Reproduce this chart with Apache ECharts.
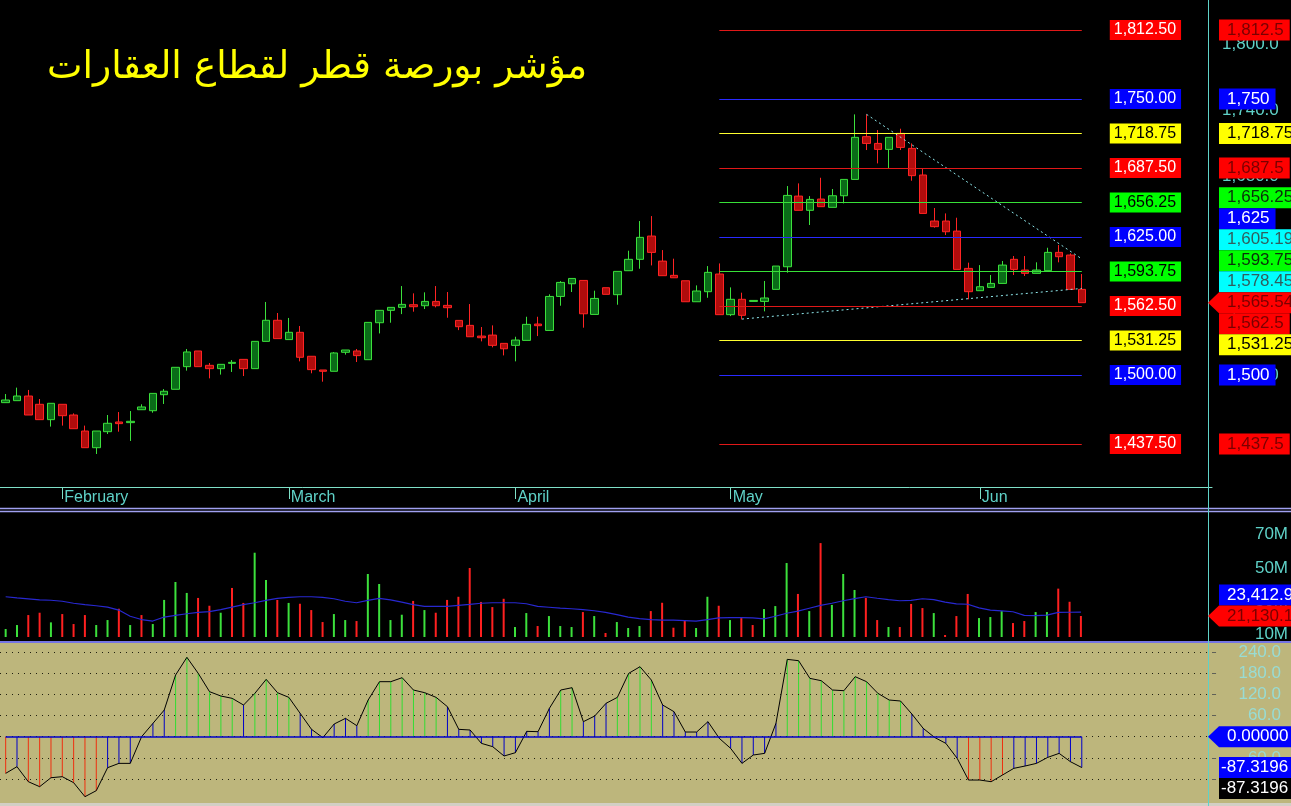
<!DOCTYPE html>
<html><head><meta charset="utf-8">
<script src="https://cdn.jsdelivr.net/npm/echarts@6/dist/echarts.min.js"></script>
<style>html,body{margin:0;padding:0;background:#000;}#c{width:1291px;height:806px;}</style>
</head><body><div id="c"></div>
<script>
// ---------------- DATA ----------------
const titleText = 'مؤشر بورصة قطر لقطاع العقارات';
const monthIdx = [5, 25, 45, 64, 86];
const monthNames = ['February', 'March', 'April', 'May', 'Jun'];

const open = [1475.0,1476.8,1481.0,1473.5,1459.6,1473.5,1463.8,1449.3,1434.2,1448.7,
1457.5,1456.9,1468.6,1467.7,1482.2,1487.1,1507.6,1521.8,1508.8,1505.8,
1510.6,1514.2,1505.8,1530.5,1549.6,1532.1,1538.7,1517.0,1504.6,1503.4,
1520.6,1521.8,1513.9,1547.4,1558.6,1561.3,1563.7,1562.8,1566.7,1563.1,
1549.5,1545.0,1535.3,1536.2,1528.7,1526.9,1531.4,1546.2,1540.4,1571.2,
1582.7,1585.7,1554.9,1579.1,1572.8,1594.5,1604.8,1625.9,1603.2,1590.3,
1585.4,1566.4,1575.5,1591.5,1554.7,1568.6,1566.7,1566.7,1577.6,1598.1,
1662.1,1649.2,1659.4,1651.9,1662.4,1677.2,1715.9,1709.8,1704.4,1718.9,
1705.3,1681.2,1639.5,1639.5,1630.4,1596.6,1576.4,1579.4,1583.0,1604.8,
1595.1,1592.1,1594.5,1611.1,1608.7,1577.6];
const close = [1477.4,1481.0,1463.8,1459.6,1474.4,1463.2,1451.4,1434.2,1449.3,1456.3,
1456.0,1458.1,1471.1,1483.4,1485.3,1507.0,1520.9,1507.6,1505.8,1509.7,
1511.5,1505.8,1530.5,1549.6,1533.0,1538.7,1516.1,1504.9,1503.4,1520.0,
1522.7,1517.6,1547.7,1558.6,1561.3,1564.0,1561.9,1566.7,1562.8,1561.0,
1543.8,1534.7,1533.8,1526.9,1523.8,1531.7,1545.9,1544.7,1571.2,1583.9,
1587.5,1555.5,1569.4,1573.1,1593.9,1604.8,1624.7,1611.1,1590.0,1588.1,
1566.4,1576.1,1593.0,1554.7,1568.6,1554.1,1567.6,1569.8,1598.7,1662.7,
1649.2,1659.1,1652.5,1662.4,1677.2,1715.3,1709.8,1704.4,1715.3,1706.2,
1680.6,1646.4,1634.4,1629.8,1595.7,1575.5,1580.0,1583.0,1599.6,1595.7,
1592.1,1595.1,1611.1,1607.2,1577.6,1565.54];
const low = [1475.0,1476.8,1463.8,1459.6,1453.3,1454.2,1451.4,1434.2,1428.5,1446.6,
1448.7,1440.3,1468.6,1465.9,1473.8,1487.1,1504.0,1507.6,1497.0,1500.4,
1502.8,1499.1,1505.8,1530.5,1533.0,1532.1,1512.4,1501.6,1494.0,1503.4,
1518.5,1511.8,1513.9,1537.7,1547.4,1555.2,1557.4,1559.8,1561.3,1551.9,
1540.7,1534.7,1530.5,1525.1,1517.8,1512.4,1531.4,1535.3,1540.4,1562.8,
1575.2,1542.9,1554.9,1573.1,1563.7,1594.5,1596.3,1599.3,1590.0,1588.1,
1566.4,1566.4,1570.0,1554.7,1553.4,1550.4,1566.7,1557.7,1577.6,1592.7,
1649.2,1635.9,1652.5,1651.9,1655.5,1677.2,1703.8,1691.7,1687.2,1703.8,
1676.0,1646.4,1633.5,1626.8,1595.7,1568.6,1576.4,1579.4,1583.0,1590.6,
1589.7,1592.1,1594.5,1602.1,1577.6,1565.5];
const high = [1482.8,1488.6,1486.5,1478.3,1474.4,1473.5,1465.3,1454.2,1449.3,1463.8,
1466.5,1467.4,1473.5,1483.4,1487.3,1507.0,1523.6,1521.8,1510.9,1509.7,
1513.6,1514.2,1530.5,1566.2,1556.2,1551.7,1544.4,1517.0,1504.6,1520.8,
1522.7,1523.6,1547.7,1558.6,1561.3,1580.6,1574.0,1574.9,1580.6,1575.2,
1549.5,1564.3,1543.5,1545.0,1528.7,1534.7,1552.8,1552.8,1573.1,1585.1,
1587.5,1585.7,1576.4,1579.1,1593.9,1612.6,1639.5,1644.0,1613.2,1605.4,
1585.4,1581.2,1598.7,1601.1,1579.4,1574.6,1567.6,1585.2,1598.7,1671.2,
1673.6,1662.1,1678.7,1668.5,1677.2,1736.1,1736.1,1721.9,1715.3,1723.1,
1709.8,1687.2,1651.3,1646.4,1642.5,1601.8,1599.6,1590.6,1603.3,1607.8,
1607.8,1602.1,1615.3,1617.8,1610.2,1591.5];

// horizontal levels (start / end candle index)
const levels = [1812.5, 1750, 1718.75, 1687.5, 1656.25, 1625, 1593.75, 1562.5, 1531.25, 1500, 1437.5];
const levelKinds = ['r','b','y','r','g','b','g','r','y','b','r'];
const levelStart = 63, levelEnd = 95;
// dotted trend lines [startIdx, startVal, endIdx, endVal]
const trendUpper = [76, 1736.1, 95, 1605.19];
const trendLower = [65, 1550.7, 95, 1578.45];
// price axis ticks
const priceTicks = [1440, 1500, 1560, 1620, 1680, 1740, 1800];

// volume (millions)
const volume = [13.3,15.7,21.7,23.1,17.3,22.3,16.3,21.7,15.7,18.7,
25.5,15.7,21.7,16.3,30.8,41.6,35.0,32.0,27.3,23.1,
38.0,29.0,59.2,42.8,30.8,29.0,28.5,24.7,17.5,22.3,
18.7,18.1,46.4,40.4,18.7,21.9,30.2,24.7,23.1,30.8,
32.7,50.0,29.6,26.5,31.5,14.5,22.9,15.1,21.1,15.1,
14.5,23.5,21.1,10.9,17.5,13.9,15.1,24.1,29.1,14.1,
18.7,13.9,32.7,27.3,18.7,19.9,15.7,25.3,27.1,53.0,
34.4,24.1,65.0,27.8,46.4,36.8,32.0,18.7,14.5,14.5,
28.4,25.9,22.9,9.7,21.1,34.4,19.9,20.5,24.1,16.9,
18.1,23.5,23.5,37.6,29.7,21.1301];
const volDir = 'ggrrgrrrggrgrggggrrgrrggrgrrrggrggggrgrrrrrrrggrgggrgrgggrrrrggrgrrgggrgrgggrrgrrrgrrrgggrrggrrr';
const volMA = [32.7,32.0,31.4,30.8,30.6,30.0,28.8,28.0,27.3,26.5,
24.7,21.0,19.0,18.1,20.5,21.5,22.5,23.3,23.8,25.0,
26.5,28.0,29.1,30.5,31.7,32.3,32.7,32.7,32.3,31.5,
30.0,29.1,30.5,31.7,30.8,29.5,28.0,26.9,26.9,26.9,
27.5,28.1,28.8,29.1,29.1,29.1,28.5,26.9,26.4,25.9,
25.5,25.0,24.3,23.3,22.0,20.5,19.5,19.0,18.7,18.7,
18.4,18.1,19.0,20.0,20.1,20.1,20.0,19.4,21.0,22.8,
24.1,25.8,27.5,28.8,30.3,31.6,32.7,31.8,31.0,30.3,
30.5,31.5,31.0,29.5,28.4,28.2,26.0,24.7,24.2,23.7,
21.5,21.3,21.7,23.3,23.4,23.4129];
const volTicks = [10, 30, 50, 70];

// oscillator
const osc = [-103.8,-84.9,-127.4,-141.5,-116.1,-113.2,-130.2,-169.8,-152.8,-87.7,
-75.5,-75.5,0,37.7,75.5,174.5,224.6,179.3,127.4,115.1,
108.5,89.6,122.7,162.3,124.5,111.3,66.0,20.8,-2.8,35.9,
51.9,31.1,103.8,155.7,155.7,167.0,132.1,124.5,111.3,84.9,
20.8,18.9,-18.9,-28.3,-54.7,-45.3,15.1,14.2,80.2,132.1,
138.7,42.5,58.5,94.4,111.3,179.3,198.1,160.4,89.6,70.8,
13.2,13.2,42.5,-4.7,-33.0,-75.5,-51.9,-47.2,37.7,218.9,
215.1,165.1,158.5,132.1,130.2,169.8,155.7,122.7,103.8,101.0,
64.2,23.6,-2.0,-18.9,-61.3,-122.7,-122.7,-127.4,-108.5,-89.6,
-83.0,-75.5,-58.5,-47.2,-70.8,-87.3196];
const oscSignal = -87.3196;
const oscGrid = [240, 180, 120, 60, 0, -60, -120];
const oscTicks = [240, 180, 120, 60, -60, -120];

// ---------------- CHART ----------------
const FONT = 'Liberation Sans, Arial, sans-serif';
const NCAT = 107, CW = 11.35, GL = -2.4, GW = NCAT * CW, AX = GL + GW;
const cats = Array.from({length: NCAT}, (_, i) => String(i));
const candleData = open.map((o, i) => [o, close[i], low[i], high[i]]);
const GREEN = '#3ce03c', RED = '#ff2020';
const CYAN = '#5fd2c8';
const kindStyle = {
  r: {line: '#e01818', bg: '#ff0000', fg: '#ffffff', fg2: '#7a0000'},
  b: {line: '#2a2aff', bg: '#0000ff', fg: '#ffffff', fg2: '#ffffff'},
  y: {line: '#ffff30', bg: '#ffff00', fg: '#000000', fg2: '#000000'},
  g: {line: '#38e038', bg: '#00ff00', fg: '#000000', fg2: '#0a300a'},
  c: {line: '#80e0e0', bg: '#00ffff', fg: '#305e5e', fg2: '#305e5e'}
};
const fmt = (v, min, max) => v.toLocaleString('en-US', {minimumFractionDigits: min, maximumFractionDigits: max});

const levelMarks = levels.map((v, i) => {
  const k = kindStyle[levelKinds[i]];
  return [{coord: [levelStart, v], lineStyle: {color: k.line, width: 1, type: 'solid'},
           label: {show: true, position: 'end', distance: 28, formatter: fmt(v, 2, 2),
                   backgroundColor: k.bg, color: k.fg, fontFamily: FONT, fontSize: 16,
                   padding: [2, 5, 1, 4], lineHeight: 17}},
          {coord: [levelEnd, v]}];
});

const monthFmt = (val, idx) => { const j = monthIdx.indexOf(Number(val)); return j >= 0 ? monthNames[j] : ''; };
const monthInterval = (idx) => monthIdx.indexOf(idx) >= 0;

const chart = echarts.init(document.getElementById('c'));
const option = {
  animation: false,
  backgroundColor: '#000000',
  title: {text: titleText, left: 42, top: 44,
          textStyle: {color: '#ffff00', fontSize: 37.7, fontWeight: 'normal', fontFamily: 'DejaVu Sans'}},
  grid: [
    {left: GL, top: 0, width: GW, height: 487},
    {left: GL, top: 512, width: GW, height: 125},
    {left: GL, top: 643, width: GW, height: 160}
  ],
  xAxis: [
    {type: 'category', gridIndex: 0, data: cats, boundaryGap: true,
     axisLine: {lineStyle: {color: '#7fe0c8', width: 1}},
     axisTick: {show: true, interval: monthInterval, alignWithLabel: true, length: 12, lineStyle: {color: '#7fe0c8'}},
     axisLabel: {interval: monthInterval, formatter: monthFmt, align: 'left', margin: 3, padding: [0, 0, 0, 2],
                 color: CYAN, fontFamily: FONT, fontSize: 16},
     splitLine: {show: false}},
    {type: 'category', gridIndex: 1, data: cats, boundaryGap: true, show: false},
    {type: 'category', gridIndex: 2, data: cats, boundaryGap: true, show: false}
  ],
  yAxis: [
    {type: 'value', gridIndex: 0, position: 'right', min: 1398.6, max: 1839.7,
     axisLine: {show: false}, axisTick: {show: false}, splitLine: {show: false},
     axisLabel: {customValues: priceTicks, formatter: v => fmt(v, 1, 1), color: CYAN,
                 fontFamily: FONT, fontSize: 17, margin: 10, align: 'left'}},
    {type: 'value', gridIndex: 1, position: 'right', min: 8.5, max: 83.7,
     axisLine: {show: false}, axisTick: {show: false}, splitLine: {show: false},
     axisLabel: {customValues: volTicks, formatter: v => v + 'M', color: CYAN,
                 fontFamily: FONT, fontSize: 17, margin: 1289 - AX, align: 'right'}},
    {type: 'value', gridIndex: 2, position: 'right', min: -187.7, max: 265.2,
     axisLine: {show: false}, splitLine: {show: false},
     axisTick: {show: true, customValues: oscTicks, length: 4, lineStyle: {color: '#606058'}},
     axisLabel: {customValues: oscTicks, formatter: v => v.toFixed(1), color: '#98dcd4',
                 fontFamily: FONT, fontSize: 17, margin: 1281 - AX, align: 'right'}}
  ],
  series: [
    {type: 'candlestick', xAxisIndex: 0, yAxisIndex: 0, data: candleData, barWidth: 8,
     itemStyle: {color: '#0a6c18', color0: '#b00c0c', borderColor: '#3ce03c', borderColor0: '#ff2424', borderWidth: 1},
     markLine: {silent: true, symbol: ['none', 'none'], animation: false, data: levelMarks}},
    {type: 'line', xAxisIndex: 0, yAxisIndex: 0, symbol: 'none', silent: true,
     data: [[trendUpper[0], trendUpper[1]], [trendUpper[2], trendUpper[3]]],
     lineStyle: {color: '#8fe8ec', width: 1, type: [2, 3]}},
    {type: 'line', xAxisIndex: 0, yAxisIndex: 0, symbol: 'none', silent: true,
     data: [[trendLower[0], trendLower[1]], [trendLower[2], trendLower[3]]],
     lineStyle: {color: '#8fe8ec', width: 1, type: [2, 3]}},
    {type: 'bar', xAxisIndex: 1, yAxisIndex: 1, barWidth: 2, silent: true,
     data: volume.map((v, i) => ({value: v, itemStyle: {color: volDir[i] === 'g' ? GREEN : RED}}))},
    {type: 'line', xAxisIndex: 1, yAxisIndex: 1, data: volMA, symbol: 'none', silent: true,
     lineStyle: {color: '#2828d0', width: 1.2}},
    {type: 'bar', xAxisIndex: 2, yAxisIndex: 2, barWidth: 1, silent: true, data: osc,
     itemStyle: {color: p => p.value > 100 ? '#33dd33' : (p.value < -100 ? '#ee3010' : '#0000c8')}},
    {type: 'line', xAxisIndex: 2, yAxisIndex: 2, data: osc, symbol: 'none', silent: true, z: 3,
     lineStyle: {color: '#000000', width: 1},
     markLine: {silent: true, symbol: ['none', 'none'], label: {show: false}, animation: false,
       data: oscGrid.map(v => ({yAxis: v, lineStyle: {color: '#202010', width: 1, type: [1, 5]}}))
         .concat([[{coord: [0, 0], lineStyle: {color: '#0000c8', width: 1.5, type: 'solid'}}, {coord: [95, 0]}]])}}
  ]
};
chart.setOption(option);

// ---------- right-hand value tags (stacked so they do not overlap) ----------
const BH = 21;
function stack(axisIdx, items, anchor) {
  const ys = items.map(it => chart.convertToPixel({yAxisIndex: axisIdx}, it.v));
  const out = ys.slice();
  for (let i = anchor - 1; i >= 0; i--) out[i] = Math.min(ys[i], out[i + 1] - BH);
  for (let i = anchor + 1; i < items.length; i++) out[i] = Math.max(ys[i], out[i - 1] + BH);
  return out;
}
function tags(items, ys) {
  const els = [];
  items.forEach((it, i) => {
    const y = ys[i];
    if (it.arrow) {
      els.push({type: 'polygon', z: 100, shape: {points: [[1208, y], [1219, y - BH / 2], [1219, y + BH / 2]]},
                style: {fill: it.bg}});
    }
    els.push({type: 'text', z: 101, x: 1219, y: y,
              style: {text: it.text, fill: it.fg, font: '17px ' + FONT, backgroundColor: it.bg,
                      padding: it.pad || [2, 6, 2, 8], verticalAlign: 'middle', align: 'left', lineHeight: 17}});
  });
  return els;
}
const priceItems = [
  {v: 1812.5, k: 'r'}, {v: 1750, k: 'b'}, {v: 1718.75, k: 'y'}, {v: 1687.5, k: 'r'}, {v: 1656.25, k: 'g'},
  {v: 1625, k: 'b'}, {v: trendUpper[3], k: 'c'}, {v: 1593.75, k: 'g'}, {v: trendLower[3], k: 'c'},
  {v: close[close.length - 1], k: 'r', arrow: true}, {v: 1562.5, k: 'r'}, {v: 1531.25, k: 'y'},
  {v: 1500, k: 'b'}, {v: 1437.5, k: 'r'}
].map(it => ({v: it.v, arrow: it.arrow, text: fmt(it.v, 0, 2), bg: kindStyle[it.k].bg, fg: kindStyle[it.k].fg2}));
const priceYs = stack(0, priceItems, 9);

const volItems = [
  {v: volMA[volMA.length - 1], text: fmt(volMA[volMA.length - 1] * 1000, 1, 1), bg: '#0000ff', fg: '#ffffff'},
  {v: volume[volume.length - 1], text: fmt(volume[volume.length - 1] * 1000, 1, 1), bg: '#ff0000', fg: '#7a0000', arrow: true}
];
const volYs = stack(1, volItems, 1);

const oscItems = [
  {v: 0, text: (0).toFixed(5), bg: '#0000ff', fg: '#ffffff', arrow: true},
  {v: osc[osc.length - 1], text: osc[osc.length - 1].toFixed(4), bg: '#0000ff', fg: '#ffffff', pad: [2, 6, 2, 2]},
  {v: oscSignal, text: oscSignal.toFixed(4), bg: '#000000', fg: '#ffffff', pad: [2, 6, 2, 2]}
];
const oscYs = stack(2, oscItems, 0);

const frame = [
  {type: 'rect', z: -1, shape: {x: 0, y: 643, width: 1291, height: 163}, style: {fill: '#bdb67c'}},
  {type: 'rect', z: -1, shape: {x: 0, y: 803, width: 1291, height: 3}, style: {fill: '#d2cfc4'}},
  {type: 'line', z: 50, shape: {x1: 0, y1: 508.5, x2: 1291, y2: 508.5}, style: {stroke: '#a0a0f0', lineWidth: 1.5}},
  {type: 'line', z: 50, shape: {x1: 0, y1: 511.5, x2: 1291, y2: 511.5}, style: {stroke: '#a0a0f0', lineWidth: 1.5}},
  {type: 'line', z: 50, shape: {x1: 0, y1: 642, x2: 1291, y2: 642}, style: {stroke: '#7474e4', lineWidth: 2}},
  {type: 'line', z: 50, shape: {x1: 1208.5, y1: 0, x2: 1208.5, y2: 806}, style: {stroke: CYAN, lineWidth: 1}}
];
chart.setOption({graphic: {elements: frame.concat(tags(priceItems, priceYs), tags(volItems, volYs), tags(oscItems, oscYs))}});
</script></body></html>
